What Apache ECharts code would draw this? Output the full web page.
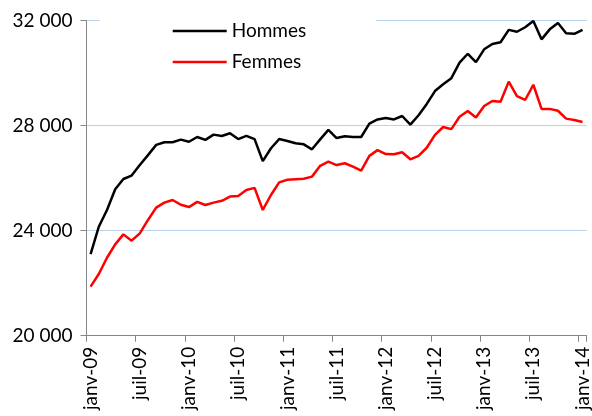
<!DOCTYPE html>
<html>
<head>
<meta charset="utf-8">
<script src="https://cdn.jsdelivr.net/npm/echarts@6/dist/echarts.min.js"></script>
<style>html,body{margin:0;padding:0;background:#fff}#c{width:592px;height:416px}</style>
</head>
<body>
<div id="c"></div>
<script>
var months = ['janv','févr','mars','avr','mai','juin','juil','août','sept','oct','nov','déc'];
var years = ['09','10','11','12','13','14'];
var categories = [];
for (var y = 0; y < years.length; y++) {
  for (var m = 0; m < 12; m++) {
    if (y === 5 && m > 0) break;
    categories.push(months[m] + '-' + years[y]);
  }
}
var hommes = [23110,24150,24790,25580,25970,26100,26500,26880,27270,27370,27370,27470,27390,27570,27460,27660,
  27610,27710,27490,27610,27490,26650,27140,27490,27420,27330,27290,27100,27480,27840,
  27530,27600,27570,27570,28080,28240,28290,28240,28370,28040,28400,28830,29320,29580,29810,
  30400,30740,30420,30910,31110,31180,31650,31580,31750,31990,31290,31670,31910,31520,31500,31650];
var femmes = [21870,22350,22970,23480,23860,23620,23900,24410,24880,25070,25170,24990,24900,25100,24980,25070,
  25140,25300,25320,25550,25630,24790,25360,25840,25940,25960,25980,26060,26470,26630,
  26500,26570,26440,26290,26850,27070,26920,26910,26990,26720,26850,27160,27650,27950,27870,
  28340,28560,28310,28750,28940,28910,29680,29130,28980,29560,28640,28640,28570,28270,28220,28140];
var yMin = 20000, yMax = 32000, yStep = 4000;

var FONT = 'Lato';
function fmt(v){ return String(v).replace(/\B(?=(\d{3})+(?!\d))/g, ' '); }

var chart = echarts.init(document.getElementById('c'), null, {renderer:'canvas'});
chart.setOption({
  animation: false,
  backgroundColor: '#fff',
  textStyle: {fontFamily: FONT},
  grid: {left: 86.5, right: 0.5, top: 20.7, bottom: 80.3, containLabel: false},
  legend: {
    orient: 'vertical',
    left: 100, top: 10,
    padding: [10, 70, 6, 72.7],
    backgroundColor: '#fff',
    icon: 'rect',
    itemWidth: 54, itemHeight: 2.5, itemGap: 9,
    textStyle: {fontFamily: FONT, fontSize: 19, color: '#000', lineHeight: 22},
    data: ['Hommes', 'Femmes']
  },
  xAxis: {
    type: 'category',
    data: categories,
    boundaryGap: true,
    axisLine: {lineStyle: {color: '#868686', width: 1}},
    axisTick: {show: true, interval: 5, length: 6, lineStyle: {color: '#868686'}},
    axisLabel: {interval: 5, rotate: 90, margin: 11, fontFamily: FONT, fontSize: 19, color: '#000'},
    splitLine: {show: false}
  },
  yAxis: {
    type: 'value',
    min: yMin, max: yMax, interval: yStep,
    axisLine: {show: true, lineStyle: {color: '#868686', width: 1}},
    axisTick: {show: true, length: 6, lineStyle: {color: '#868686'}},
    axisLabel: {margin: 14, fontFamily: FONT, fontSize: 19, color: '#000', formatter: fmt},
    splitLine: {show: true, lineStyle: {color: '#B9D3EE', width: 1}}
  },
  series: [
    {name: 'Hommes', type: 'line', data: hommes, symbol: 'none', lineStyle: {color: '#000', width: 2.5}, itemStyle: {color: '#000'}},
    {name: 'Femmes', type: 'line', data: femmes, symbol: 'none', lineStyle: {color: '#FF0000', width: 2.5}, itemStyle: {color: '#FF0000'}}
  ]
});
</script>
</body>
</html>
